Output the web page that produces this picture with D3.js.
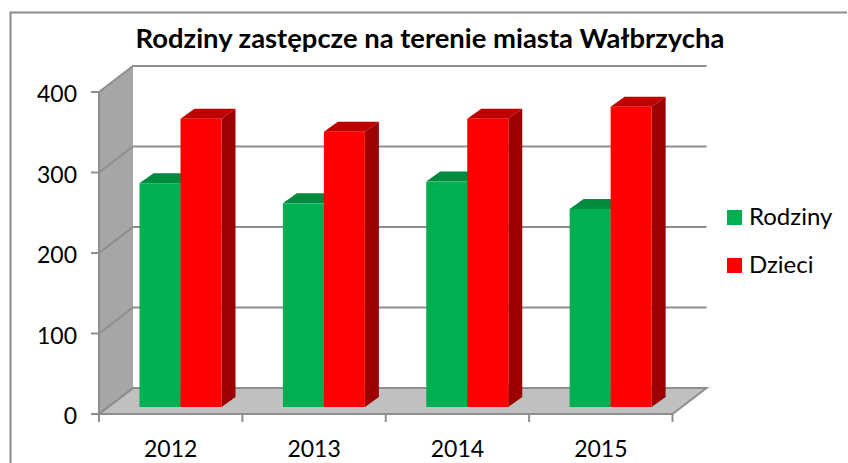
<!DOCTYPE html>
<html>
<head>
<meta charset="utf-8">
<script src="https://cdnjs.cloudflare.com/ajax/libs/d3/7.8.5/d3.min.js"></script>
<style>
  html, body { margin: 0; padding: 0; background: #fff; }
  text { font-family: Lato, "Open Sans", sans-serif; fill: #000; }
</style>
</head>
<body>
<div id="chart"></div>
<script>
var years = ["2012", "2013", "2014", "2015"];
var rodziny = [278, 253, 280, 246];
var dzieci = [358, 342, 358, 373];
var yTicks = [0, 100, 200, 300, 400];
var seriesNames = ["Rodziny", "Dzieci"];

var svgWidth = 848;
var svgHeight = 463;

var svg = d3.select("#chart").append("svg")
    .attr("width", svgWidth)
    .attr("height", svgHeight)
    .style("display", "block");

// outer frame, bottom and right run off the picture
svg.append("path")
    .attr("d", "M10.5,470V12.5H847")
    .attr("fill", "none")
    .attr("stroke", "#8c8c8c")
    .attr("stroke-width", 2);

// front plane scales, depth is a shift up and to the right
var xScale = d3.scaleBand().domain(years).range([99, 672.5]);
var yScale = d3.scaleLinear().domain([0, 400]).range([414, 92]);
var depthX = 34;
var depthY = -26;

var pathLine = d3.line();
var wallColor = "#a6a6a6";
var floorColor = "#c0c0c0";
var gridColor = "#8e8e8e";

// left wall
svg.append("path")
    .attr("d", pathLine([
        [xScale.range()[0], yScale(0)],
        [xScale.range()[0], yScale(400)],
        [xScale.range()[0] + depthX, yScale(400) + depthY],
        [xScale.range()[0] + depthX, yScale(0) + depthY]
    ]) + "Z")
    .attr("fill", wallColor);

// floor
svg.append("path")
    .attr("d", pathLine([
        [xScale.range()[0], yScale(0)],
        [xScale.range()[0] + depthX, yScale(0) + depthY],
        [xScale.range()[1] + depthX, yScale(0) + depthY],
        [xScale.range()[1], yScale(0)]
    ]) + "Z")
    .attr("fill", floorColor)
    .attr("stroke", gridColor)
    .attr("stroke-width", 2);

// gridlines, wall part and back part
yTicks.forEach(function(t) {
    svg.append("path")
        .attr("d", pathLine([
            [xScale.range()[0] - 8, yScale(t)],
            [xScale.range()[0], yScale(t)],
            [xScale.range()[0] + depthX, yScale(t) + depthY],
            [xScale.range()[1] + depthX, yScale(t) + depthY]
        ]))
        .attr("fill", "none")
        .attr("stroke", gridColor)
        .attr("stroke-width", 2);
});

// front edges of the wall and x axis
svg.append("line")
    .attr("x1", 99).attr("x2", 99)
    .attr("y1", yScale(400)).attr("y2", yScale(0))
    .attr("stroke", gridColor).attr("stroke-width", 2);
svg.append("line")
    .attr("x1", 91).attr("x2", 672)
    .attr("y1", yScale(0)).attr("y2", yScale(0))
    .attr("stroke", gridColor).attr("stroke-width", 2);

// category ticks
d3.range(years.length + 1).forEach(function(i) {
    var tx = 99 + i * xScale.step();
    svg.append("line")
        .attr("x1", tx).attr("x2", tx)
        .attr("y1", yScale(0)).attr("y2", yScale(0) + 8)
        .attr("stroke", gridColor).attr("stroke-width", 2);
});

// 3d bars
var barWidth = 41;
var barGap = 40.5;
var barDepthX = 14;
var barDepthY = -10;
var barBase = 7; // bars stand this far behind the front edge of the floor

function drawBar(x, value, front, top, side) {
    var y0 = yScale(0) - barBase;
    var y1 = y0 - (yScale(0) - yScale(value));
    var g = svg.append("g");
    g.append("path")
        .attr("d", pathLine([[x + barWidth, y0], [x + barWidth, y1],
            [x + barWidth + barDepthX, y1 + barDepthY], [x + barWidth + barDepthX, y0 + barDepthY]]) + "Z")
        .attr("fill", side);
    g.append("path")
        .attr("d", pathLine([[x, y1], [x + barDepthX, y1 + barDepthY],
            [x + barWidth + barDepthX, y1 + barDepthY], [x + barWidth, y1]]) + "Z")
        .attr("fill", top);
    g.append("rect")
        .attr("x", x).attr("y", y1)
        .attr("width", barWidth).attr("height", y0 - y1)
        .attr("fill", front);
}

years.forEach(function(year, i) {
    var x = xScale(year) + barGap;
    drawBar(x, rodziny[i], "#00b050", "#008a3f", "#007a37");
    drawBar(x + barWidth, dzieci[i], "#ff0000", "#bf0000", "#9c0000");
});

// labels
svg.selectAll(".ylab").data(yTicks).enter().append("text")
    .attr("class", "ylab")
    .attr("x", 77)
    .attr("y", function(d) { return yScale(d) + 10; })
    .attr("text-anchor", "end")
    .attr("font-size", 23)
    .text(function(d) { return d; });

svg.selectAll(".xlab").data(years).enter().append("text")
    .attr("class", "xlab")
    .attr("x", function(d) { return xScale(d) + xScale.bandwidth() / 2; })
    .attr("y", 457)
    .attr("text-anchor", "middle")
    .attr("font-size", 23)
    .text(function(d) { return d; });

svg.append("text")
    .attr("x", 430)
    .attr("y", 48)
    .attr("text-anchor", "middle")
    .attr("font-size", 27.4)
    .attr("font-weight", 700)
    .text("Rodziny zastępcze na terenie miasta Wałbrzycha");

// legend
var legendColors = ["#00b050", "#ff0000"];
seriesNames.forEach(function(name, i) {
    var ly = 210 + i * 48;
    svg.append("rect")
        .attr("x", 727).attr("y", ly)
        .attr("width", 15).attr("height", 15)
        .attr("fill", legendColors[i]);
    svg.append("text")
        .attr("x", 749).attr("y", ly + 15)
        .attr("font-size", 24)
        .text(name);
});
</script>
</body>
</html>
